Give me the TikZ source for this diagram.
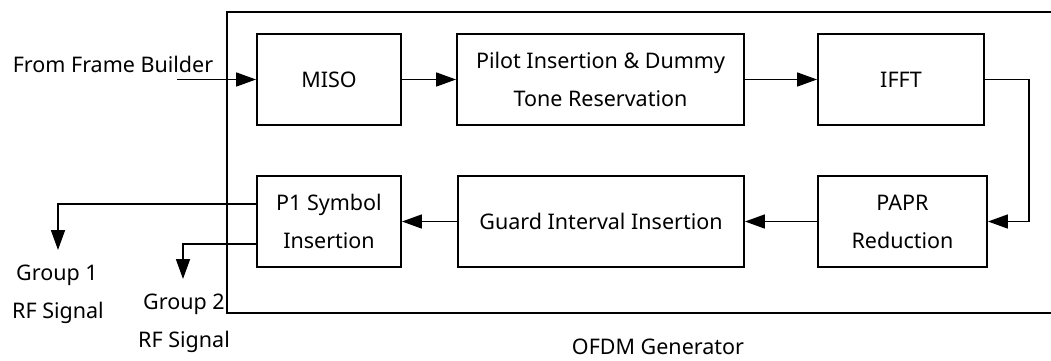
\documentclass[tikz,border=0pt]{standalone}
\usepackage{fontspec}
\setmainfont{Noto Sans}
\usetikzlibrary{arrows.meta}
\begin{document}
\begin{tikzpicture}[x=1pt,y=-1pt,
  blk/.style={draw, line width=1.9pt, inner sep=0pt, minimum height=91pt, align=center,
    font=\fontsize{21.5}{38}\selectfont},
  lbl/.style={inner sep=0pt, anchor=base, align=center, font=\fontsize{21.5}{38}\selectfont},
  conn/.style={line width=1.7pt, -{Triangle[length=20pt,width=14pt]}},
  wire/.style={line width=1.7pt}]
\useasboundingbox (0,0) rectangle (1051,360);
% frame
\draw[line width=1.2pt] (1051,12) -- (227,12) -- (227,313) -- (1051,313);
% blocks
\node[blk, minimum width=144pt] (miso) at (329,79.5) {MISO};
\node[blk, minimum width=287pt] (pilot) at (600.5,79.5) {Pilot Insertion \& Dummy\\Tone Reservation};
\node[blk, minimum width=166pt] (ifft) at (901,79.5) {IFFT};
\node[blk, minimum width=169pt] (papr) at (902.5,221.5) {PAPR\\Reduction};
\node[blk, minimum width=286pt] (guard) at (601,221.5) {Guard Interval Insertion};
\node[blk, minimum width=144pt] (p1) at (329,221.5) {P1 Symbol\\Insertion};
% labels
\node[lbl] (fb) at (113,72) {From Frame Builder};
\node[lbl] (g1) at (57,280) {Group 1};
\node[lbl] (r1) at (58,318) {RF Signal};
\node[lbl] (g2) at (184,309) {Group 2};
\node[lbl] (r2) at (184,347) {RF Signal};
\node[lbl] (ofdm) at (658,354) {OFDM Generator};
% coordinates
\coordinate (in) at (177,79.5);
\coordinate (loop) at (1029,79.5);
\coordinate (o1) at (58,250);
\coordinate (o2) at (183,279);
% connectors
\draw[conn] (in) -- (miso.west);
\draw[conn] (miso.east) -- (pilot.west);
\draw[conn] (pilot.east) -- (ifft.west);
\draw[conn] (ifft.east) -- (loop) |- (papr.east);
\draw[conn] (papr.west) -- (guard.east);
\draw[conn] (guard.west) -- (p1.east);
\draw[conn] ([yshift=17.5pt]p1.west) -| (o1);
\draw[conn] ([yshift=-22.5pt]p1.west) -| (o2);
\end{tikzpicture}
\end{document}
